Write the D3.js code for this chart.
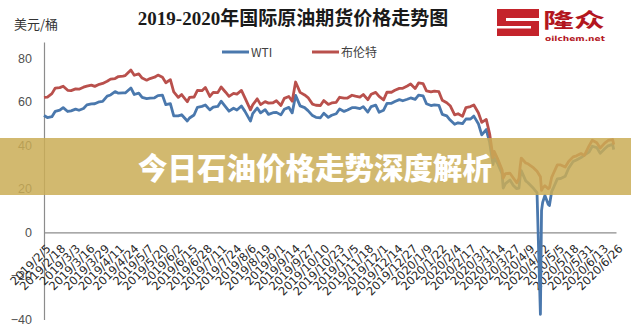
<!DOCTYPE html>
<html>
<head>
<meta charset="utf-8">
<script src="https://cdn.jsdelivr.net/npm/d3@7/dist/d3.min.js"></script>
<style>
  html, body { margin: 0; padding: 0; background: #fff; }
  svg { display: block; }
</style>
</head>
<body>
<svg id="chart" width="631" height="335"></svg>
<script>
// Daily settlement samples, WTI and Brent front-month futures (USD/bbl)
const dates = [
  "2019-02-05","2019-02-08","2019-02-12","2019-02-15","2019-02-19","2019-02-22","2019-02-26","2019-03-01",
  "2019-03-05","2019-03-08","2019-03-12","2019-03-15","2019-03-19","2019-03-22","2019-03-26","2019-03-29",
  "2019-04-02","2019-04-05","2019-04-09","2019-04-12","2019-04-16","2019-04-18","2019-04-23","2019-04-26",
  "2019-04-30","2019-05-03","2019-05-07","2019-05-10","2019-05-14","2019-05-17","2019-05-21","2019-05-24",
  "2019-05-28","2019-05-31","2019-06-04","2019-06-07","2019-06-12","2019-06-14","2019-06-18","2019-06-21",
  "2019-06-25","2019-06-28","2019-07-02","2019-07-05","2019-07-09","2019-07-12","2019-07-16","2019-07-19",
  "2019-07-23","2019-07-26","2019-07-30","2019-08-02","2019-08-07","2019-08-09","2019-08-13","2019-08-16",
  "2019-08-20","2019-08-23","2019-08-27","2019-08-30","2019-09-03","2019-09-06","2019-09-10","2019-09-13",
  "2019-09-16","2019-09-20","2019-09-24","2019-09-27","2019-10-01","2019-10-04","2019-10-08","2019-10-11",
  "2019-10-15","2019-10-18","2019-10-22","2019-10-25","2019-10-29","2019-11-01","2019-11-05","2019-11-08",
  "2019-11-12","2019-11-15","2019-11-19","2019-11-22","2019-11-26","2019-11-29","2019-12-03","2019-12-06",
  "2019-12-10","2019-12-13","2019-12-17","2019-12-20","2019-12-24","2019-12-27","2019-12-31","2020-01-03",
  "2020-01-07","2020-01-10","2020-01-14","2020-01-17","2020-01-21","2020-01-24","2020-01-28","2020-01-31",
  "2020-02-04","2020-02-07","2020-02-11","2020-02-14","2020-02-18","2020-02-21","2020-02-25","2020-02-28",
  "2020-03-03","2020-03-06","2020-03-09","2020-03-10","2020-03-13","2020-03-17","2020-03-18","2020-03-20",
  "2020-03-24","2020-03-27","2020-03-30","2020-04-01","2020-04-02","2020-04-03","2020-04-07","2020-04-09",
  "2020-04-14","2020-04-17","2020-04-20","2020-04-21","2020-04-22","2020-04-24","2020-04-27","2020-04-28",
  "2020-04-30","2020-05-01","2020-05-05","2020-05-08","2020-05-12","2020-05-15","2020-05-19","2020-05-22",
  "2020-05-26","2020-05-29","2020-06-02","2020-06-05","2020-06-09","2020-06-12","2020-06-16","2020-06-19",
  "2020-06-23","2020-06-24"
];

const wti = [
  53.66,52.72,53.10,55.59,56.09,57.26,55.50,55.80,
  56.56,56.07,56.87,58.52,59.03,59.04,59.94,60.14,
  62.58,63.08,64.61,63.89,64.05,64.00,66.30,63.30,
  63.91,61.94,61.40,61.66,61.78,62.76,62.99,58.63,
  59.14,53.50,53.48,53.99,51.14,52.51,53.90,57.43,
  57.83,58.47,56.25,57.51,57.83,60.21,57.62,55.63,
  57.00,56.20,58.05,55.66,51.09,54.50,57.10,54.87,
  56.34,54.17,54.93,55.10,53.94,56.52,57.40,54.85,
  62.90,58.09,57.29,55.91,53.62,52.81,52.63,54.70,
  52.81,53.78,54.48,56.66,55.54,56.20,57.23,57.24,
  56.80,57.72,55.21,57.77,58.41,55.17,56.10,59.20,
  59.24,60.07,60.94,60.44,61.11,61.72,61.06,63.05,
  62.70,59.04,58.23,58.54,58.34,54.19,53.48,51.56,
  49.61,50.32,49.94,52.05,52.05,53.38,49.90,44.76,
  47.18,41.28,31.13,34.36,31.73,26.95,20.37,22.43,
  24.01,21.51,20.09,20.31,25.32,28.34,23.63,22.76,
  20.11,18.27,-37.63,10.01,13.78,16.94,12.78,12.34,
  18.84,19.78,24.56,24.74,25.78,29.43,32.50,33.25,
  34.35,35.49,36.81,39.55,38.94,36.26,38.38,39.75,
  40.37,38.01
];

const brent = [
  61.98,62.10,63.69,66.25,66.45,67.12,65.21,65.07,
  65.86,65.74,66.67,67.16,67.61,67.03,67.97,68.39,
  69.37,70.34,70.61,71.55,71.72,71.97,74.51,72.15,
  72.80,70.85,69.88,70.62,71.24,72.21,71.18,68.69,
  70.11,64.49,61.97,63.29,59.97,62.01,62.14,65.20,
  65.05,66.55,62.40,64.23,64.16,66.72,64.35,62.47,
  63.83,63.46,65.17,61.89,56.23,58.53,61.30,58.64,
  60.03,59.34,59.51,60.43,58.26,61.54,62.38,60.22,
  69.02,64.28,63.10,61.91,58.89,58.37,58.24,60.51,
  58.74,59.42,59.70,62.02,61.59,61.69,62.96,62.51,
  62.06,63.30,60.91,63.39,64.27,62.43,60.82,64.39,
  64.34,65.22,66.10,66.14,67.20,68.16,66.00,68.60,
  68.27,64.98,64.49,64.85,64.59,60.69,59.51,58.16,
  53.96,54.47,53.27,57.32,57.75,58.50,54.95,50.52,
  51.86,45.27,34.36,37.22,33.85,28.73,24.88,26.98,
  27.15,24.93,22.76,24.74,29.94,34.11,31.87,31.48,
  29.60,28.08,25.57,19.33,20.37,21.44,19.99,20.46,
  25.27,26.44,30.97,30.97,29.98,32.50,34.65,35.13,
  36.17,35.33,39.57,42.30,41.18,38.73,40.96,42.19,
  42.63,40.31
];

// Axis settings
const yTickValues = [-40, -20, 0, 20, 40, 60, 80];
const yAxisMax = 87.4;
const xStart = "2019-02-05";
const xEnd = "2020-06-26";
const xTickStepDays = 13;

const seriesNames = ["WTI", "布伦特"];
const seriesColors = ["#4a78ad", "#b9504c"];

const titleText = "2019-2020年国际原油期货价格走势图";
const unitText = "美元/桶";
const bannerText = "今日石油价格走势深度解析";

const parse = d3.timeParse("%Y-%m-%d");
const fmt = d3.timeFormat("%Y/%-m/%-d");

const svg = d3.select("#chart");

const x = d3.scaleTime()
  .domain([parse(xStart), parse(xEnd)])
  .range([44, 616]);

const y = d3.scaleLinear()
  .domain([-40, yAxisMax])
  .range([319.5, 42]);

const xTicks = d3.timeDay.every(1).range(parse(xStart), d3.timeDay.offset(parse(xEnd), 1))
  .filter((d, i) => i % xTickStepDays === 0);

// Title
svg.append("text")
  .attr("x", 293).attr("y", 25)
  .attr("text-anchor", "middle")
  .attr("font-family", "'Liberation Serif','Noto Sans CJK SC',serif")
  .attr("font-weight", "bold")
  .attr("font-size", 19)
  .attr("fill", "#1a1a1a")
  .text(titleText);

// Unit label
svg.append("text")
  .attr("x", 14).attr("y", 29)
  .attr("font-family", "'Noto Sans CJK SC',sans-serif")
  .attr("font-size", 13)
  .attr("fill", "#333")
  .text(unitText);

// Brand mark
const logo = svg.append("g");
logo.append("rect").attr("x", 497).attr("y", 9).attr("width", 42).attr("height", 27).attr("fill", "#c4232b");
logo.append("rect").attr("x", 506).attr("y", 18).attr("width", 33).attr("height", 3).attr("fill", "#fff");
logo.append("rect").attr("x", 497).attr("y", 26).attr("width", 34).attr("height", 2.5).attr("fill", "#fff");
logo.append("text")
  .attr("x", 543).attr("y", 28)
  .attr("font-family", "'Noto Sans CJK SC',sans-serif")
  .attr("font-weight", "bold")
  .attr("font-size", 20)
  .attr("textLength", 62).attr("lengthAdjust", "spacingAndGlyphs")
  .attr("fill", "#b3161e")
  .text("隆众");
logo.append("text")
  .attr("x", 545).attr("y", 41)
  .attr("font-family", "'DejaVu Sans',sans-serif")
  .attr("font-weight", "bold")
  .attr("font-size", 7)
  .attr("textLength", 60).attr("lengthAdjust", "spacingAndGlyphs")
  .attr("fill", "#b3161e")
  .text("oilchem.net");

// Legend
const legend = svg.append("g");
const legendX = [222, 312];
seriesNames.forEach((name, i) => {
  legend.append("line")
    .attr("x1", legendX[i]).attr("x2", legendX[i] + 27)
    .attr("y1", 52).attr("y2", 52)
    .attr("stroke", seriesColors[i]).attr("stroke-width", 3);
  legend.append("text")
    .attr("x", legendX[i] + 29).attr("y", 56.5)
    .attr("font-family", "'Noto Sans CJK SC','DejaVu Sans',sans-serif")
    .attr("font-size", 12)
    .attr("fill", "#404040")
    .text(name);
});

// Y axis
const yAxis = svg.append("g")
  .attr("transform", `translate(${x.range()[0]},0)`)
  .call(d3.axisLeft(y).tickValues(yTickValues).tickSize(0).tickPadding(12).tickSizeOuter(0));
yAxis.select(".domain").attr("stroke", "#8c8c8c").attr("stroke-width", 1.2);
yAxis.selectAll("text")
  .attr("font-family", "'Liberation Sans',sans-serif")
  .attr("font-size", 12.5)
  .attr("fill", "#505050");

// X axis along zero
const xAxis = svg.append("g")
  .attr("transform", `translate(0,${y(0)})`)
  .call(d3.axisBottom(x).tickValues(xTicks).tickSize(0).tickSizeOuter(0).tickFormat(fmt));
xAxis.select(".domain").attr("stroke", "#8c8c8c").attr("stroke-width", 1.2);
xAxis.selectAll(".tick text")
  .attr("font-family", "'DejaVu Sans',sans-serif")
  .attr("font-size", 11.5)
  .attr("fill", "#262626")
  .attr("text-anchor", "end")
  .attr("x", 0).attr("y", 0).attr("dy", 0)
  .attr("transform", "translate(7,17) rotate(-45)");

// Price lines
const series = [wti, brent];
const line = d3.line()
  .x((d, i) => x(parse(dates[i])))
  .y(d => y(d));

series.forEach((vals, i) => {
  svg.append("path")
    .datum(vals)
    .attr("fill", "none")
    .attr("stroke", seriesColors[i])
    .attr("stroke-width", 2.8)
    .attr("stroke-linejoin", "round")
    .attr("d", line);
});

// Headline banner
svg.append("rect")
  .attr("x", 0).attr("y", 138)
  .attr("width", 631).attr("height", 57)
  .attr("fill", "rgb(202,173,86)")
  .attr("opacity", 0.85);
svg.append("text")
  .attr("x", 315).attr("y", 179)
  .attr("text-anchor", "middle")
  .attr("font-family", "'Noto Sans CJK SC',sans-serif")
  .attr("font-weight", "900")
  .attr("font-size", 29.5)
  .attr("fill", "#fff")
  .text(bannerText);
</script>
</body>
</html>
